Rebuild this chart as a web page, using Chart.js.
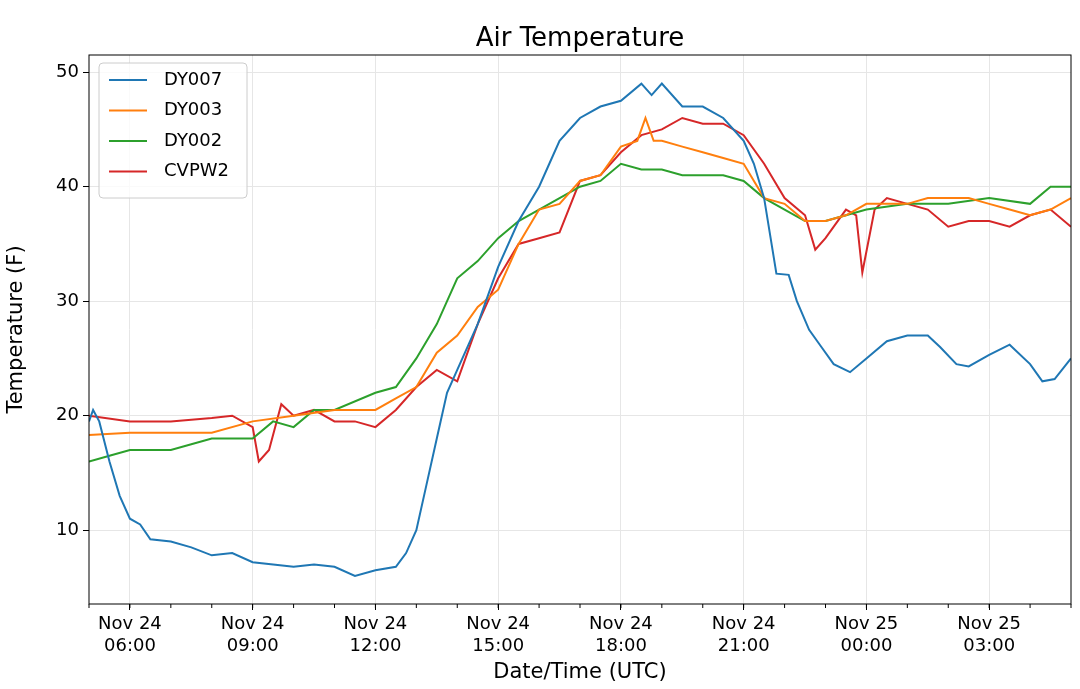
<!DOCTYPE html>
<html><head><meta charset="utf-8">
<script src="https://cdn.jsdelivr.net/npm/chart.js@4/dist/chart.umd.min.js"></script>
<style>html,body{margin:0;padding:0;background:#fff}#w{width:1080px;height:689px}</style>
</head><body><div id="w"><canvas id="c"></canvas></div>
<script>
const seriesNames = ["DY007","DY003","DY002","CVPW2"];
const seriesColors = ["#1f77b4","#ff7f0e","#2ca02c","#d62728"];
const xTickHours = [6,9,12,15,18,21,24,27];
const xTickLabels = [["Nov 24","06:00"],["Nov 24","09:00"],["Nov 24","12:00"],["Nov 24","15:00"],["Nov 24","18:00"],["Nov 24","21:00"],["Nov 25","00:00"],["Nov 25","03:00"]];
const yTicks = [10,20,30,40,50];
// hours since Nov 24 00:00 UTC, temperature F
const dy007 = [[5,19.5],[5.1,20.5],[5.25,19.5],[5.5,16],[5.75,13],[6,11],[6.25,10.5],[6.5,9.2],[7,9],[7.5,8.5],[8,7.8],[8.5,8],[9,7.2],[9.5,7],[10,6.8],[10.5,7],[11,6.8],[11.5,6],[12,6.5],[12.5,6.8],[12.75,8],[13,10],[13.25,14],[13.5,18],[13.75,22],[14,24],[14.5,28],[15,33],[15.5,37],[16,40],[16.25,42],[16.5,44],[17,46],[17.5,47],[18,47.5],[18.5,49],[18.75,48],[19,49],[19.5,47],[20,47],[20.5,46],[21,44],[21.25,42],[21.5,39],[21.8,32.4],[22.1,32.3],[22.3,30],[22.6,27.5],[22.9,26],[23.2,24.5],[23.6,23.8],[24,25],[24.5,26.5],[25,27],[25.5,27],[25.8,26],[26.2,24.5],[26.5,24.3],[27,25.3],[27.5,26.2],[28,24.5],[28.3,23],[28.6,23.2],[29,25]];
const dy003 = [[5,18.3],[6,18.5],[8,18.5],[9,19.5],[10,20],[11,20.5],[12,20.5],[12.5,21.5],[13,22.5],[13.5,25.5],[14,27],[14.5,29.5],[15,31],[15.5,35],[16,38],[16.5,38.5],[17,40.5],[17.5,41],[18,43.5],[18.4,44],[18.6,46],[18.8,44],[19,44],[19.5,43.5],[20,43],[20.5,42.5],[21,42],[21.5,39],[22,38.5],[22.5,37],[23,37],[23.5,37.5],[24,38.5],[24.5,38.5],[25,38.5],[25.5,39],[26,39],[26.5,39],[27,38.5],[27.5,38],[28,37.5],[28.5,38],[29,39]];
const dy002 = [[5,16],[5.5,16.5],[6,17],[7,17],[7.5,17.5],[8,18],[9,18],[9.5,19.5],[10,19],[10.5,20.5],[11,20.5],[12,22],[12.5,22.5],[13,25],[13.5,28],[14,32],[14.5,33.5],[15,35.5],[15.5,37],[16,38],[16.5,39],[17,40],[17.5,40.5],[18,42],[18.5,41.5],[19,41.5],[19.5,41],[20,41],[20.5,41],[21,40.5],[21.5,39],[22,38],[22.5,37],[23,37],[23.5,37.5],[24,38],[25,38.5],[26,38.5],[27,39],[28,38.5],[28.5,40],[29,40]];
const cvpw2 = [[5,20],[6,19.5],[7,19.5],[8,19.8],[8.5,20],[9,19],[9.15,16],[9.4,17],[9.7,21],[10,20],[10.5,20.5],[11,19.5],[11.5,19.5],[12,19],[12.5,20.5],[13,22.5],[13.5,24],[14,23],[14.5,28],[15,32],[15.5,35],[16,35.5],[16.5,36],[17,40.5],[17.5,41],[18,43],[18.5,44.5],[19,45],[19.5,46],[20,45.5],[20.5,45.5],[21,44.5],[21.5,42],[22,39],[22.5,37.5],[22.75,34.5],[23,35.5],[23.5,38],[23.75,37.5],[23.9,32.5],[24.2,38],[24.5,39],[25,38.5],[25.5,38],[26,36.5],[26.5,37],[27,37],[27.5,36.5],[28,37.5],[28.5,38],[29,36.5]];
const seriesData = [dy007,dy003,dy002,cvpw2];
const F = "'DejaVu Sans'";
const deco = {id:'deco',
  afterDraw(ch){const c=ch.ctx,a=ch.chartArea;c.save();
    c.strokeStyle='#000';c.lineWidth=1;c.strokeRect(a.left,a.top,a.right-a.left,a.bottom-a.top);
    c.fillStyle='#000';c.font='26px '+F;c.textAlign='center';c.textBaseline='alphabetic';
    c.fillText('Air Temperature',(a.left+a.right)/2,46);
    // minor x ticks every hour
    for(let h=5;h<=29;h++){const x=ch.scales.x.getPixelForValue(h);c.beginPath();c.moveTo(x,a.bottom);c.lineTo(x,a.bottom+4);c.stroke();}
    // legend
    const lx=a.left+10,ly=a.top+8,lw=148,lh=135;
    c.fillStyle='rgba(255,255,255,0.8)';c.strokeStyle='#ccc';
    c.beginPath();c.roundRect(lx,ly,lw,lh,4);c.fill();c.stroke();
    c.font='18px '+F;c.textAlign='left';c.textBaseline='middle';
    seriesNames.forEach((n,i)=>{const y=ly+17+i*30.5;c.strokeStyle=seriesColors[i];c.lineWidth=2;
      c.beginPath();c.moveTo(lx+10,y);c.lineTo(lx+48,y);c.stroke();c.fillStyle='#000';c.fillText(n,lx+65,y);});
    c.restore();}};
new Chart(document.getElementById('c'),{type:'line',
 data:{datasets:seriesNames.map((n,i)=>({label:n,data:seriesData[i].map(p=>({x:p[0],y:p[1]})),borderColor:seriesColors[i],borderWidth:2,pointRadius:0,tension:0}))},
 options:{responsive:true,maintainAspectRatio:false,animation:false,
  layout:{padding:{top:55,right:9,left:0,bottom:0}},
  plugins:{legend:{display:false},title:{display:false},tooltip:{enabled:false}},
  scales:{
   x:{type:'linear',min:5,max:29,afterBuildTicks(s){s.ticks=xTickHours.map(v=>({value:v}));},
      afterFit(s){s.height=85;},
      ticks:{color:'#000',font:{size:18,family:F},maxRotation:0,padding:4,callback(v){const i=xTickHours.indexOf(v);return i>=0?xTickLabels[i]:'';}},
      grid:{color:'#e6e6e6',tickColor:'#000',tickLength:6},border:{display:false},
      title:{display:true,text:'Date/Time (UTC)',color:'#000',font:{size:21,family:F},padding:{top:0}}},
   y:{min:3.55,max:51.5,afterBuildTicks(s){s.ticks=yTicks.map(v=>({value:v}));},
      afterFit(s){s.width=89;},
      ticks:{color:'#000',font:{size:18,family:F},padding:4},
      grid:{color:'#e6e6e6',tickColor:'#000',tickLength:6},border:{display:false},
      title:{display:true,text:'Temperature (F)',color:'#000',font:{size:21,family:F},padding:{bottom:2}}}}},
 plugins:[deco]});
</script></body></html>
